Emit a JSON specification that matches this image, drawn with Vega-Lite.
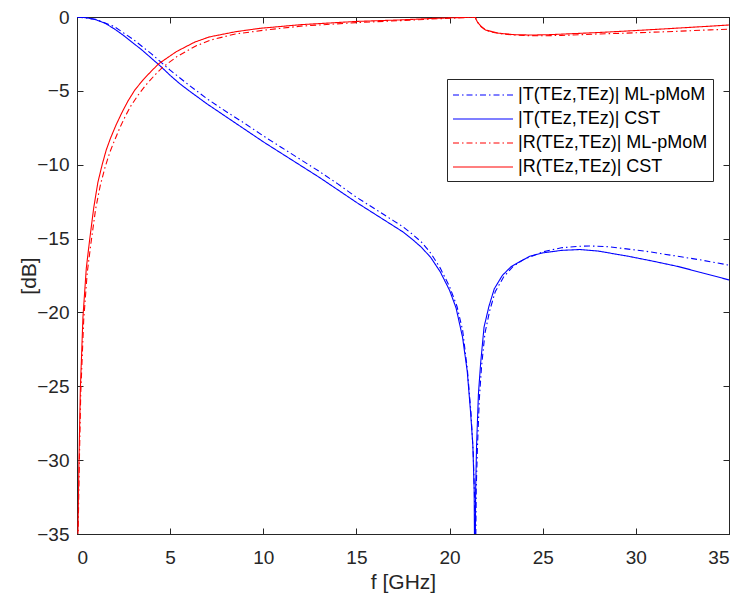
{
"$schema":"https://vega.github.io/schema/vega-lite/v6.json",
"width":652,"height":517,"autosize":"none",
"padding":{"left":77,"top":17,"right":14,"bottom":67},
"config":{
 "view":{"stroke":"#262626","strokeWidth":1},
 "font":"Liberation Sans",
 "axis":{"grid":false,"domainColor":"#262626","tickColor":"#262626","labelColor":"#262626","titleColor":"#262626","labelFont":"Liberation Sans","titleFont":"Liberation Sans","labelFontSize":19,"titleFontSize":21,"titleFontWeight":"normal","tickSize":-6,"domainWidth":1,"tickWidth":1}
},
"data":{"values":[
{"f":0,"v":0,"s":"T1"},{"f":1,"v":-0.15,"s":"T1"},{"f":2,"v":-0.65,"s":"T1"},{"f":3,"v":-1.5,"s":"T1"},{"f":4,"v":-2.5,"s":"T1"},{"f":5,"v":-3.6,"s":"T1"},{"f":6,"v":-4.6,"s":"T1"},{"f":7,"v":-5.55,"s":"T1"},{"f":8,"v":-6.4,"s":"T1"},{"f":9,"v":-7.2,"s":"T1"},{"f":10,"v":-8.05,"s":"T1"},{"f":11,"v":-8.85,"s":"T1"},{"f":12,"v":-9.65,"s":"T1"},{"f":13,"v":-10.45,"s":"T1"},{"f":14,"v":-11.3,"s":"T1"},{"f":15,"v":-12.2,"s":"T1"},{"f":16,"v":-13.0,"s":"T1"},{"f":17,"v":-13.8,"s":"T1"},{"f":17.5,"v":-14.2,"s":"T1"},{"f":18,"v":-14.7,"s":"T1"},{"f":18.5,"v":-15.25,"s":"T1"},{"f":19,"v":-16.0,"s":"T1"},{"f":19.5,"v":-17.0,"s":"T1"},{"f":20,"v":-18.25,"s":"T1"},{"f":20.4,"v":-19.6,"s":"T1"},{"f":20.7,"v":-21.2,"s":"T1"},{"f":20.95,"v":-23.8,"s":"T1"},{"f":21.15,"v":-26.8,"s":"T1"},{"f":21.27,"v":-29.5,"s":"T1"},{"f":21.34,"v":-32.5,"s":"T1"},{"f":21.38,"v":-40,"s":"T1"},{"f":21.43,"v":-32,"s":"T1"},{"f":21.5,"v":-29,"s":"T1"},{"f":21.6,"v":-25.8,"s":"T1"},{"f":21.72,"v":-23.6,"s":"T1"},{"f":21.9,"v":-21.4,"s":"T1"},{"f":22.15,"v":-19.9,"s":"T1"},{"f":22.45,"v":-18.6,"s":"T1"},{"f":22.9,"v":-17.6,"s":"T1"},{"f":23.4,"v":-16.9,"s":"T1"},{"f":24,"v":-16.4,"s":"T1"},{"f":25,"v":-15.9,"s":"T1"},{"f":26,"v":-15.62,"s":"T1"},{"f":27,"v":-15.52,"s":"T1"},{"f":27.5,"v":-15.5,"s":"T1"},{"f":28.5,"v":-15.55,"s":"T1"},{"f":29.5,"v":-15.7,"s":"T1"},{"f":30.5,"v":-15.85,"s":"T1"},{"f":31.5,"v":-16.05,"s":"T1"},{"f":32.5,"v":-16.25,"s":"T1"},{"f":33.5,"v":-16.45,"s":"T1"},{"f":35,"v":-16.8,"s":"T1"},
{"f":0,"v":0,"s":"T2"},{"f":0.5,"v":-0.05,"s":"T2"},{"f":1,"v":-0.18,"s":"T2"},{"f":1.5,"v":-0.42,"s":"T2"},{"f":2,"v":-0.8,"s":"T2"},{"f":2.5,"v":-1.25,"s":"T2"},{"f":3,"v":-1.75,"s":"T2"},{"f":3.5,"v":-2.25,"s":"T2"},{"f":4,"v":-2.8,"s":"T2"},{"f":4.5,"v":-3.35,"s":"T2"},{"f":5,"v":-3.95,"s":"T2"},{"f":5.5,"v":-4.5,"s":"T2"},{"f":6,"v":-4.98,"s":"T2"},{"f":7,"v":-5.9,"s":"T2"},{"f":8,"v":-6.75,"s":"T2"},{"f":9,"v":-7.6,"s":"T2"},{"f":10,"v":-8.45,"s":"T2"},{"f":11,"v":-9.25,"s":"T2"},{"f":12,"v":-10.05,"s":"T2"},{"f":13,"v":-10.85,"s":"T2"},{"f":14,"v":-11.7,"s":"T2"},{"f":15,"v":-12.55,"s":"T2"},{"f":16,"v":-13.35,"s":"T2"},{"f":17,"v":-14.15,"s":"T2"},{"f":17.5,"v":-14.55,"s":"T2"},{"f":18,"v":-15.05,"s":"T2"},{"f":18.5,"v":-15.6,"s":"T2"},{"f":19,"v":-16.3,"s":"T2"},{"f":19.5,"v":-17.25,"s":"T2"},{"f":20,"v":-18.5,"s":"T2"},{"f":20.35,"v":-19.7,"s":"T2"},{"f":20.7,"v":-21.7,"s":"T2"},{"f":20.95,"v":-24,"s":"T2"},{"f":21.13,"v":-26.8,"s":"T2"},{"f":21.25,"v":-29,"s":"T2"},{"f":21.32,"v":-32,"s":"T2"},{"f":21.36,"v":-40,"s":"T2"},{"f":21.4,"v":-32,"s":"T2"},{"f":21.45,"v":-29,"s":"T2"},{"f":21.55,"v":-25.5,"s":"T2"},{"f":21.67,"v":-23.4,"s":"T2"},{"f":21.85,"v":-21,"s":"T2"},{"f":22.11,"v":-19.6,"s":"T2"},{"f":22.4,"v":-18.4,"s":"T2"},{"f":22.83,"v":-17.5,"s":"T2"},{"f":23.3,"v":-16.9,"s":"T2"},{"f":23.72,"v":-16.6,"s":"T2"},{"f":24.3,"v":-16.2,"s":"T2"},{"f":25,"v":-15.97,"s":"T2"},{"f":26,"v":-15.8,"s":"T2"},{"f":27,"v":-15.74,"s":"T2"},{"f":28,"v":-15.85,"s":"T2"},{"f":29.6,"v":-16.2,"s":"T2"},{"f":31,"v":-16.55,"s":"T2"},{"f":32.3,"v":-16.9,"s":"T2"},{"f":33.5,"v":-17.3,"s":"T2"},{"f":35,"v":-17.8,"s":"T2"},
{"f":0.03,"v":-40,"s":"R1"},{"f":0.06,"v":-35,"s":"R1"},{"f":0.12,"v":-30.5,"s":"R1"},{"f":0.2,"v":-25.5,"s":"R1"},{"f":0.36,"v":-20.5,"s":"R1"},{"f":0.55,"v":-17.3,"s":"R1"},{"f":0.75,"v":-15.3,"s":"R1"},{"f":1,"v":-13,"s":"R1"},{"f":1.25,"v":-11.4,"s":"R1"},{"f":1.5,"v":-10.2,"s":"R1"},{"f":1.75,"v":-9.2,"s":"R1"},{"f":2,"v":-8.4,"s":"R1"},{"f":2.3,"v":-7.5,"s":"R1"},{"f":2.6,"v":-6.7,"s":"R1"},{"f":2.9,"v":-6,"s":"R1"},{"f":3.3,"v":-5.25,"s":"R1"},{"f":3.7,"v":-4.6,"s":"R1"},{"f":4.2,"v":-3.9,"s":"R1"},{"f":4.6,"v":-3.4,"s":"R1"},{"f":5.4,"v":-2.65,"s":"R1"},{"f":6.4,"v":-1.95,"s":"R1"},{"f":7.2,"v":-1.55,"s":"R1"},{"f":8.5,"v":-1.15,"s":"R1"},{"f":10,"v":-0.9,"s":"R1"},{"f":12,"v":-0.62,"s":"R1"},{"f":15,"v":-0.38,"s":"R1"},{"f":17.3,"v":-0.25,"s":"R1"},{"f":19,"v":-0.14,"s":"R1"},{"f":20.5,"v":-0.06,"s":"R1"},{"f":21.38,"v":0,"s":"R1"},{"f":21.5,"v":-0.35,"s":"R1"},{"f":21.7,"v":-0.66,"s":"R1"},{"f":21.95,"v":-0.9,"s":"R1"},{"f":22.3,"v":-1.03,"s":"R1"},{"f":22.7,"v":-1.13,"s":"R1"},{"f":23.5,"v":-1.22,"s":"R1"},{"f":24.2,"v":-1.26,"s":"R1"},{"f":25,"v":-1.27,"s":"R1"},{"f":26,"v":-1.25,"s":"R1"},{"f":27,"v":-1.2,"s":"R1"},{"f":28,"v":-1.15,"s":"R1"},{"f":30,"v":-1.07,"s":"R1"},{"f":32,"v":-0.98,"s":"R1"},{"f":34,"v":-0.87,"s":"R1"},{"f":35,"v":-0.83,"s":"R1"},
{"f":0.02,"v":-40,"s":"R2"},{"f":0.05,"v":-35,"s":"R2"},{"f":0.1,"v":-30.4,"s":"R2"},{"f":0.18,"v":-25.2,"s":"R2"},{"f":0.32,"v":-20.3,"s":"R2"},{"f":0.5,"v":-17,"s":"R2"},{"f":0.68,"v":-15.07,"s":"R2"},{"f":0.9,"v":-12.9,"s":"R2"},{"f":1.12,"v":-11.2,"s":"R2"},{"f":1.35,"v":-10,"s":"R2"},{"f":1.57,"v":-9,"s":"R2"},{"f":1.8,"v":-8.2,"s":"R2"},{"f":2.1,"v":-7.3,"s":"R2"},{"f":2.4,"v":-6.5,"s":"R2"},{"f":2.73,"v":-5.7,"s":"R2"},{"f":3.1,"v":-4.95,"s":"R2"},{"f":3.55,"v":-4.25,"s":"R2"},{"f":4,"v":-3.65,"s":"R2"},{"f":4.4,"v":-3.15,"s":"R2"},{"f":5.34,"v":-2.34,"s":"R2"},{"f":6.32,"v":-1.7,"s":"R2"},{"f":7.1,"v":-1.35,"s":"R2"},{"f":8.5,"v":-1.0,"s":"R2"},{"f":9.8,"v":-0.77,"s":"R2"},{"f":12,"v":-0.52,"s":"R2"},{"f":15,"v":-0.3,"s":"R2"},{"f":17.3,"v":-0.2,"s":"R2"},{"f":19,"v":-0.1,"s":"R2"},{"f":20.5,"v":-0.04,"s":"R2"},{"f":21.36,"v":0,"s":"R2"},{"f":21.5,"v":-0.35,"s":"R2"},{"f":21.7,"v":-0.65,"s":"R2"},{"f":21.93,"v":-0.88,"s":"R2"},{"f":22.3,"v":-1.0,"s":"R2"},{"f":22.65,"v":-1.1,"s":"R2"},{"f":23.5,"v":-1.2,"s":"R2"},{"f":24.4,"v":-1.22,"s":"R2"},{"f":25.3,"v":-1.2,"s":"R2"},{"f":26.2,"v":-1.15,"s":"R2"},{"f":28,"v":-1.05,"s":"R2"},{"f":29.8,"v":-0.93,"s":"R2"},{"f":32,"v":-0.77,"s":"R2"},{"f":34,"v":-0.62,"s":"R2"},{"f":35,"v":-0.54,"s":"R2"}
]},
"layer":[
 {"mark":{"type":"line","clip":true,"strokeWidth":1.1},
  "encoding":{
   "x":{"field":"f","type":"quantitative","scale":{"domain":[0,35],"nice":false,"zero":false},"axis":{"values":[0,5,10,15,20,25,30,35],"title":"f [GHz]","labelPadding":20,"titlePadding":4}},
   "y":{"field":"v","type":"quantitative","scale":{"domain":[-35,0],"nice":false,"zero":false},"axis":{"values":[-35,-30,-25,-20,-15,-10,-5,0],"title":"[dB]","labelPadding":14,"titlePadding":-3}},
   "color":{"field":"s","type":"nominal","scale":{"domain":["T1","T2","R1","R2"],"range":["#0000ff","#0000ff","#ff0000","#ff0000"]},
     "legend":{"title":null,"orient":"none","legendX":370,"legendY":62,"labelExpr":"{'T1':'|T(TEz,TEz)| ML-pMoM','T2':'|T(TEz,TEz)| CST','R1':'|R(TEz,TEz)| ML-pMoM','R2':'|R(TEz,TEz)| CST'}[datum.value]","labelFontSize":18,"labelLimit":400,"labelColor":"#000000","symbolType":"M-3,0H3","symbolSize":400,"symbolOffset":20,"symbolStrokeWidth":1.1,"symbolFillColor":"transparent","strokeColor":"#262626","fillColor":"#ffffff","padding":5,"rowPadding":4,"labelOffset":24,"cornerRadius":0,"symbolOpacity":1}},
   "strokeDash":{"field":"s","type":"nominal","scale":{"domain":["T1","T2","R1","R2"],"range":[[6,3,1.5,3],[1,0],[6,3,1.5,3],[1,0]]},"legend":null}
  }},
 {"mark":{"type":"point","opacity":0},
  "encoding":{
   "x":{"field":"f","type":"quantitative","axis":{"orient":"top","values":[0,5,10,15,20,25,30,35],"labels":false,"title":null}},
   "y":{"field":"v","type":"quantitative","axis":{"orient":"right","values":[-35,-30,-25,-20,-15,-10,-5,0],"labels":false,"title":null}}
  }}
],
"resolve":{"axis":{"x":"independent","y":"independent"}}
}
